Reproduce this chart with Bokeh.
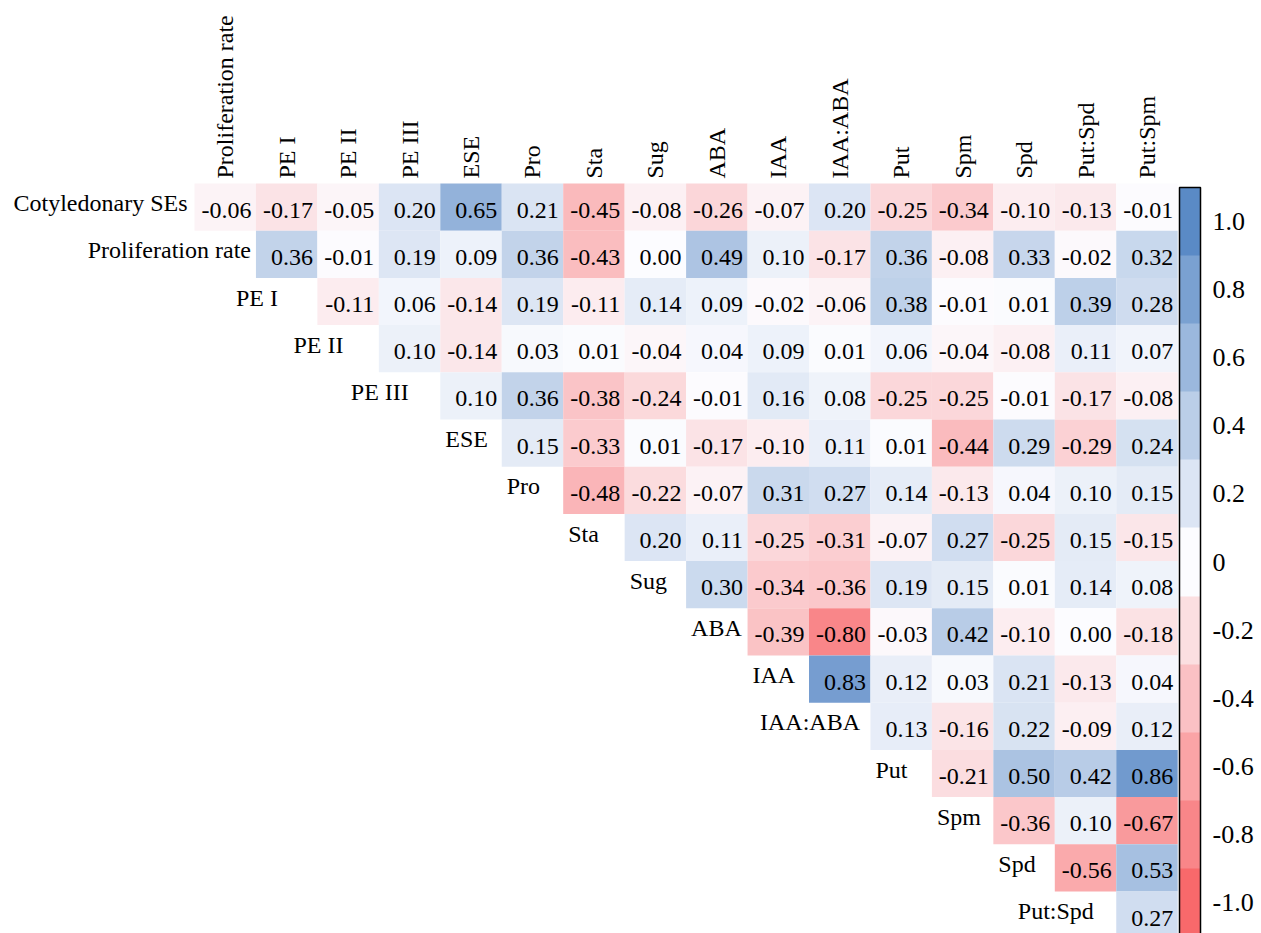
import math
from bokeh.plotting import figure
from bokeh.models import (Range1d, ColumnDataSource, ColorBar, LinearColorMapper,
                          FixedTicker, CustomJSTickFormatter)
from bokeh.core.properties import value
from bokeh.embed import file_html
from bokeh.resources import INLINE

# ---------------- data ----------------
row_names = ["Cotyledonary SEs", "Proliferation rate", "PE I", "PE II", "PE III", "ESE",
             "Pro", "Sta", "Sug", "ABA", "IAA", "IAA:ABA", "Put", "Spm", "Spd", "Put:Spd"]
col_names = ["Proliferation rate", "PE I", "PE II", "PE III", "ESE", "Pro", "Sta", "Sug",
             "ABA", "IAA", "IAA:ABA", "Put", "Spm", "Spd", "Put:Spd", "Put:Spm"]

r_cotyledonary = [-0.06, -0.17, -0.05, 0.20, 0.65, 0.21, -0.45, -0.08, -0.26, -0.07, 0.20, -0.25, -0.34, -0.10, -0.13, -0.01]
r_prolif = [0.36, -0.01, 0.19, 0.09, 0.36, -0.43, 0.00, 0.49, 0.10, -0.17, 0.36, -0.08, 0.33, -0.02, 0.32]
r_pe1 = [-0.11, 0.06, -0.14, 0.19, -0.11, 0.14, 0.09, -0.02, -0.06, 0.38, -0.01, 0.01, 0.39, 0.28]
r_pe2 = [0.10, -0.14, 0.03, 0.01, -0.04, 0.04, 0.09, 0.01, 0.06, -0.04, -0.08, 0.11, 0.07]
r_pe3 = [0.10, 0.36, -0.38, -0.24, -0.01, 0.16, 0.08, -0.25, -0.25, -0.01, -0.17, -0.08]
r_ese = [0.15, -0.33, 0.01, -0.17, -0.10, 0.11, 0.01, -0.44, 0.29, -0.29, 0.24]
r_pro = [-0.48, -0.22, -0.07, 0.31, 0.27, 0.14, -0.13, 0.04, 0.10, 0.15]
r_sta = [0.20, 0.11, -0.25, -0.31, -0.07, 0.27, -0.25, 0.15, -0.15]
r_sug = [0.30, -0.34, -0.36, 0.19, 0.15, 0.01, 0.14, 0.08]
r_aba = [-0.39, -0.80, -0.03, 0.42, -0.10, 0.00, -0.18]
r_iaa = [0.83, 0.12, 0.03, 0.21, -0.13, 0.04]
r_iaa_aba = [0.13, -0.16, 0.22, -0.09, 0.12]
r_put = [-0.21, 0.50, 0.42, 0.86]
r_spm = [-0.36, 0.10, -0.67]
r_spd = [-0.56, 0.53]
r_put_spd = [0.27]

colorbar_ticks = [-1.0, -0.8, -0.6, -0.4, -0.2, 0.0, 0.2, 0.4, 0.6, 0.8, 1.0]

rows = [r_cotyledonary, r_prolif, r_pe1, r_pe2, r_pe3, r_ese, r_pro, r_sta, r_sug,
        r_aba, r_iaa, r_iaa_aba, r_put, r_spm, r_spd, r_put_spd]

# ---------------- style ----------------
FONT = "Liberation Serif"
BLUE = (90, 138, 198)
WHITE = (252, 252, 255)
RED = (248, 105, 107)

def cell_color(v):
    v = max(-1.0, min(1.0, v))
    end = BLUE if v >= 0 else RED
    t = abs(v)
    c = [round(WHITE[k] + t * (end[k] - WHITE[k])) for k in range(3)]
    return "#%02x%02x%02x" % tuple(c)

W, H = 1261, 933          # figure size
PAGE = 0                  # observed page offset
CW, RH = 61.45, 47.2      # cell size in px
GX0, GY0 = 194, 183       # page position of grid top-left

x_start = (PAGE - GX0) / CW
x_end = (PAGE + W - GX0) / CW
y_top = (PAGE - GY0) / RH
y_bottom = (PAGE + H - GY0) / RH

p = figure(width=W, height=H, x_range=Range1d(x_start, x_end),
           y_range=Range1d(y_bottom, y_top), output_backend="svg",
           toolbar_location=None, x_axis_location=None, y_axis_location=None,
           min_border=0, outline_line_color=None)
p.grid.visible = False
p.background_fill_color = "white"
p.border_fill_color = "white"

# cells
xs, ys, cols, labs = [], [], [], []
for i, row in enumerate(rows):
    for k, v in enumerate(row):
        j = i + k
        xs.append(j)
        ys.append(i)
        cols.append(cell_color(v))
        labs.append(f"{v:.2f}")

src = ColumnDataSource(dict(left=xs, right=[x + 1 for x in xs], top=ys,
                            bottom=[y + 1 for y in ys], color=cols, label=labs,
                            tx=[x + 1 for x in xs], ty=[y + 0.5 for y in ys]))
p.quad(left="left", right="right", top="top", bottom="bottom", fill_color="color",
       line_color=None, source=src)
p.text(x="tx", y="ty", text="label", source=src, text_align="right",
       text_baseline="middle", x_offset=-4.5, y_offset=3,
       text_font=value(FONT), text_font_size="24px", text_color="black")

# column labels
csrc = ColumnDataSource(dict(x=[j + 0.5 for j in range(len(col_names))],
                             y=[0] * len(col_names), t=col_names))
p.text(x="x", y="y", text="t", source=csrc, angle=math.pi / 2, text_align="left",
       text_baseline="middle", y_offset=-5, text_font=value(FONT),
       text_font_size="24px", text_color="black")

# row labels
CENTERED = {"PE I", "PE II", "PE III", "IAA:ABA", "Put:Spd"}
groups = {"right": ([], [], [], []), "left": ([], [], [], []), "center": ([], [], [], [])}
for i, name in enumerate(row_names):
    if i == 0:
        g, x, off = "right", 0, -7
    elif i == 1:
        g, x, off = "right", 1, -5
    elif name in CENTERED:
        g, x, off = "center", i - 1, 1
    else:
        g, x, off = "left", i - 1, 5
    groups[g][0].append(x)
    groups[g][1].append(i + 0.5)
    groups[g][2].append(name)
    groups[g][3].append(off)
for align, (gx, gy, gt, go) in groups.items():
    if not gx:
        continue
    s = ColumnDataSource(dict(x=gx, y=gy, t=gt, o=go))
    p.text(x="x", y="y", text="t", source=s, x_offset="o", y_offset=-4,
           text_align=align, text_baseline="middle", text_font=value(FONT),
           text_font_size="24px", text_color="black")

# color bar (11 bins centred on the ticks)
mapper = LinearColorMapper(palette=[cell_color(t) for t in colorbar_ticks],
                           low=-1.1, high=1.1)
cb = ColorBar(color_mapper=mapper, ticker=FixedTicker(ticks=colorbar_ticks),
              formatter=CustomJSTickFormatter(code="return Math.abs(tick) < 1e-9 ? '0' : tick.toFixed(1);"),
              orientation="vertical", location=(1179 - PAGE, (PAGE + H) - 936),
              width=21, height=749, padding=0, label_standoff=12,
              bar_line_color="black", bar_line_width=1.5,
              major_tick_line_color=None, minor_tick_line_color=None,
              major_tick_in=0, major_tick_out=0,
              major_label_text_font=FONT, major_label_text_font_size="26px",
              major_label_text_color="black",
              background_fill_alpha=0, border_line_color=None)
p.add_layout(cb)

open("out.html", "w").write(file_html(p, INLINE))
